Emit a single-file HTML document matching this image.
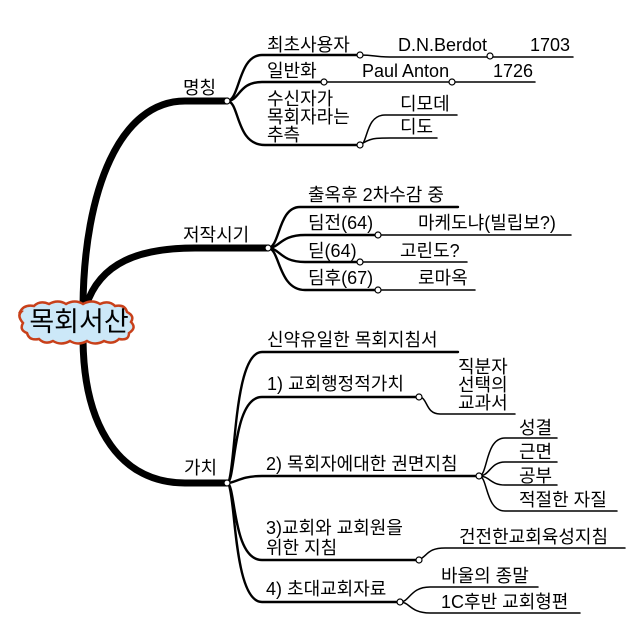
<!DOCTYPE html>
<html><head><meta charset="utf-8">
<style>
html,body{margin:0;padding:0;background:#fff;}
svg{display:block;}
text{font-family:"Liberation Sans","Noto Sans CJK KR","NanumGothic",sans-serif;font-size:18px;fill:#000;dominant-baseline:central;}
.t{fill:none;stroke:#000;stroke-width:2.4;stroke-linecap:round;}
.s{fill:none;stroke:#000;stroke-width:1.5;stroke-linecap:round;}
.m{fill:none;stroke:#000;stroke-width:7;stroke-linecap:butt;}
circle{fill:#fff;stroke:#000;stroke-width:1.2;}
</style></head>
<body>
<svg width="628" height="636" viewBox="0 0 628 636" xmlns="http://www.w3.org/2000/svg">
<path class="m" d="M83 306 C84 190 120 101 185 101 L227 101"/>
<path class="m" d="M86 306 C100 262 140 248 195 248 L268 248"/>
<path class="m" d="M83 340 C84 430 122 483 185 483 L227 483"/>

<g>
<path d="M20 312 q4 -8 14 -6 q6 -6 15 -2 q9 -5 17 0 q9 -5 17 0 q9 -5 17 0 q9 -4 15 2 q10 -2 12 6 q8 4 4 10 q6 6 -2 11 q0 8 -10 6 q-6 6 -15 2 q-9 5 -17 0 q-9 5 -17 0 q-9 5 -17 0 q-8 4 -14 -2 q-10 2 -12 -6 q-8 -3 -4 -10 q-6 -7 -2 -11 z" fill="#cce8f8" stroke="#c8401a" stroke-width="2.5"/>
<text x="79" y="322" text-anchor="middle" style="font-size:27px">목회서산</text>
</g>

<text x="183" y="88">명칭</text>
<path class="t" d="M227 101 C240 101 238 55 262 55 L360 55"/>
<path class="s" d="M360 55 C375 55 375 57 390 57 L573 57"/>
<circle cx="360" cy="55" r="3"/><circle cx="490" cy="56" r="3"/>
<text x="267" y="45">최초사용자</text>
<text x="398" y="45">D.N.Berdot</text>
<text x="530" y="45">1703</text>

<path class="t" d="M227 101 C240 101 238 82 262 82 L324 82"/>
<path class="s" d="M324 82 L535 82"/>
<circle cx="324" cy="82" r="3"/><circle cx="452" cy="82" r="3"/>
<text x="267" y="71">일반화</text>
<text x="362" y="71">Paul Anton</text>
<text x="493" y="71">1726</text>

<path class="t" d="M227 101 C240 101 235 145 265 145 L360 145"/>
<path class="s" d="M360 145 C368 145 365 115 385 115 L457 115"/>
<path class="s" d="M360 145 C370 138 375 138 390 138 L437 138"/>
<circle cx="360" cy="145" r="3"/>
<text x="267" y="99">수신자가</text>
<text x="267" y="117">목회자라는</text>
<text x="267" y="135">추측</text>
<text x="400" y="104">디모데</text>
<text x="400" y="127">디도</text>
<circle cx="227" cy="101" r="3"/>

<text x="183" y="235">저작시기</text>
<path class="t" d="M268 248 C280 248 278 207 300 207 L458 207"/>
<path class="t" d="M268 248 C280 248 280 235 305 235 L378 235"/>
<path class="s" d="M378 235 L571 235"/>
<path class="t" d="M268 248 C280 248 280 262 305 262 L360 262"/>
<path class="s" d="M360 262 L467 262"/>
<path class="t" d="M268 248 C280 248 278 290 305 290 L378 290"/>
<path class="s" d="M378 290 L475 290"/>
<circle cx="378" cy="235" r="3"/><circle cx="360" cy="262" r="3"/><circle cx="378" cy="290" r="3"/>
<circle cx="268" cy="248" r="3"/>
<text x="308" y="195">출옥후 2차수감 중</text>
<text x="308" y="223">딤전(64)</text>
<text x="418" y="223">마케도냐(빌립보?)</text>
<text x="308" y="251">딛(64)</text>
<text x="400" y="251">고린도?</text>
<text x="308" y="278">딤후(67)</text>
<text x="418" y="278">로마옥</text>

<text x="184" y="468">가치</text>
<path class="t" d="M227 483 C236 483 232 352 262 352 L458 352"/>
<path class="t" d="M227 483 C236 483 232 397 262 397 L419 397"/>
<path class="s" d="M419 397 C428 397 425 414 440 414 L515 414"/>
<path class="t" d="M227 483 C236 483 240 476 262 476 L479 476"/>
<path class="s" d="M479 476 C488 476 485 438 505 438 L557 438"/>
<path class="s" d="M479 476 C490 476 490 462 505 462 L557 462"/>
<path class="s" d="M479 476 C490 476 490 485 505 485 L557 485"/>
<path class="s" d="M479 476 C488 476 485 511 505 511 L617 511"/>
<path class="t" d="M227 483 C236 483 232 560 262 560 L419 560"/>
<path class="s" d="M419 560 C428 555 428 548 445 548 L625 548"/>
<path class="t" d="M227 483 C236 483 232 602 262 602 L400 602"/>
<path class="s" d="M400 602 C410 602 410 587 430 587 L538 587"/>
<path class="s" d="M400 602 C410 602 410 613 430 613 L580 613"/>
<circle cx="419" cy="397" r="3"/><circle cx="479" cy="476" r="3"/>
<circle cx="419" cy="560" r="3"/><circle cx="400" cy="602" r="3"/>
<circle cx="227" cy="483" r="3"/>
<text x="267" y="340">신약유일한 목회지침서</text>
<text x="267" y="384">1) 교회행정적가치</text>
<text x="458" y="367">직분자</text>
<text x="458" y="385">선택의</text>
<text x="458" y="403">교과서</text>
<text x="266" y="464">2) 목회자에대한 권면지침</text>
<text x="519" y="428">성결</text>
<text x="519" y="452">근면</text>
<text x="519" y="476">공부</text>
<text x="519" y="500">적절한 자질</text>
<text x="266" y="528">3)교회와 교회원을</text>
<text x="266" y="548">위한 지침</text>
<text x="459" y="537">건전한교회육성지침</text>
<text x="266" y="589">4) 초대교회자료</text>
<text x="441" y="576">바울의 종말</text>
<text x="441" y="602">1C후반 교회형편</text>
</svg>
</body></html>
